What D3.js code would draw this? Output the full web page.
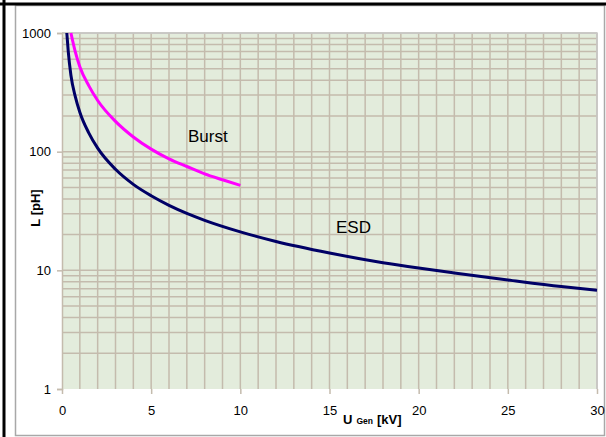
<!DOCTYPE html>
<html>
<head>
<meta charset="utf-8">
<script src="https://cdn.jsdelivr.net/npm/d3@7"></script>
<style>
  html, body { margin: 0; padding: 0; background: #ffffff; }
  svg { display: block; font-family: Arial, "Liberation Sans", sans-serif; }
</style>
</head>
<body>
<div id="chart"></div>
<script>
// Generator voltage U_Gen [kV] and the matching inductance L [pH]
const esdU = [0.27, 0.35, 0.5, 0.75, 1, 1.5, 2, 3, 4, 5, 6, 7, 8, 10, 12, 15, 18, 20, 22, 25, 28, 30];
const esdL = [1000, 700, 440, 290, 215, 144, 107, 71, 53, 42.5, 35.3, 30.2, 26.4, 21.1, 17.5, 14, 11.6, 10.45, 9.5, 8.3, 7.3, 6.8];
const burstU = [0.5, 0.75, 1, 1.5, 2, 3, 4, 5, 6, 7, 8, 9, 10];
const burstL = [1000, 690, 520, 360, 270, 180, 133, 105, 87, 75, 65, 58, 52];
const xTickValues = [0, 5, 10, 15, 20, 25, 30];
const yTickValues = [1, 10, 100, 1000];
const seriesNames = ["ESD", "Burst"];

const W = 606, H = 437;
const plot = { left: 62, top: 33, right: 597, bottom: 389 };

const svg = d3.select("#chart").append("svg").attr("width", W).attr("height", H);

// outer frame
svg.append("rect").attr("x", 15.5).attr("y", 5.5).attr("width", 589).attr("height", 430)
  .attr("fill", "#ffffff").attr("stroke", "#a8a8a8").attr("stroke-width", 1.5);
svg.append("line").attr("x1", 0).attr("x2", W).attr("y1", 4).attr("y2", 4)
  .attr("stroke", "#000").attr("stroke-width", 3);
svg.append("line").attr("x1", 4).attr("x2", 4).attr("y1", 0).attr("y2", H)
  .attr("stroke", "#000").attr("stroke-width", 3);

const x = d3.scaleLinear().domain([0, 30]).range([plot.left, plot.right]);
const y = d3.scaleLog().domain([1, 1000]).range([plot.bottom, plot.top]);

// plot background
svg.append("rect").attr("x", plot.left).attr("y", plot.top)
  .attr("width", plot.right - plot.left).attr("height", plot.bottom - plot.top)
  .attr("fill", "#e3ecdc");

const gridColor = "#c4bbad";
const grid = svg.append("g");
// vertical grid every 1 kV
grid.selectAll("line.v").data(d3.range(1, 31)).join("line")
  .attr("x1", d => x(d)).attr("x2", d => x(d))
  .attr("y1", plot.top).attr("y2", plot.bottom)
  .attr("stroke", gridColor).attr("stroke-width", 1.5);
// horizontal grid at every log step
const yGrid = [];
[1, 10, 100].forEach(dec => { for (let k = 1; k <= 9; k++) yGrid.push(dec * k); });
yGrid.push(1000);
grid.selectAll("line.h").data(yGrid.filter(v => v > 1)).join("line")
  .attr("x1", plot.left).attr("x2", plot.right)
  .attr("y1", d => y(d)).attr("y2", d => y(d))
  .attr("stroke", gridColor).attr("stroke-width", 1.5);

// plot border (top / right)
svg.append("path")
  .attr("d", `M${plot.left},${plot.top}H${plot.right}V${plot.bottom}`)
  .attr("fill", "none").attr("stroke", "#c8c8c8").attr("stroke-width", 1.5);

// axes
const xAxis = svg.append("g").attr("transform", `translate(0,${plot.bottom})`)
  .call(d3.axisBottom(x).tickValues(xTickValues).tickSize(5).tickPadding(12).tickFormat(d3.format("d")));
const yAxis = svg.append("g").attr("transform", `translate(${plot.left},0)`)
  .call(d3.axisLeft(y).tickValues(yTickValues).tickSize(5).tickPadding(6).tickFormat(d3.format("d")));
[xAxis, yAxis].forEach(a => {
  a.selectAll(".tick line").attr("stroke", gridColor).attr("stroke-width", 1.5);
  a.selectAll(".tick text").attr("fill", "#000").style("font-size", "13px")
    .style("font-family", "Arial, 'Liberation Sans', sans-serif");
});
xAxis.select(".domain").remove();
yAxis.select(".domain").attr("stroke", gridColor).attr("stroke-width", 1.5);

// curves
const line = d3.line().x(d => x(d[0])).y(d => y(d[1])).curve(d3.curveMonotoneX);
const esd = esdU.map((u, i) => [u, esdL[i]]);
const burst = burstU.map((u, i) => [u, burstL[i]]);
svg.append("path").datum(burst).attr("d", line)
  .attr("fill", "none").attr("stroke", "#ff00ff").attr("stroke-width", 3);
svg.append("path").datum(esd).attr("d", line)
  .attr("fill", "none").attr("stroke", "#000066").attr("stroke-width", 3);

// series labels
svg.append("text").attr("x", 188).attr("y", 142).text(seriesNames[1])
  .style("font-size", "17px").attr("fill", "#000");
svg.append("text").attr("x", 336).attr("y", 233).text(seriesNames[0])
  .style("font-size", "17px").attr("fill", "#000");

// axis titles
const xt = svg.append("text").attr("x", 343).attr("y", 424)
  .style("font-weight", "bold").style("font-size", "13px").attr("fill", "#000");
xt.append("tspan").text("U");
xt.append("tspan").attr("dx", 4).text("Gen").style("font-size", "8.5px");
xt.append("tspan").attr("dx", 4).text("[kV]");

svg.append("text").attr("transform", "translate(40,208) rotate(-90)")
  .attr("text-anchor", "middle").style("font-weight", "bold").style("font-size", "13px")
  .attr("fill", "#000").text("L [pH]");
</script>
</body>
</html>
